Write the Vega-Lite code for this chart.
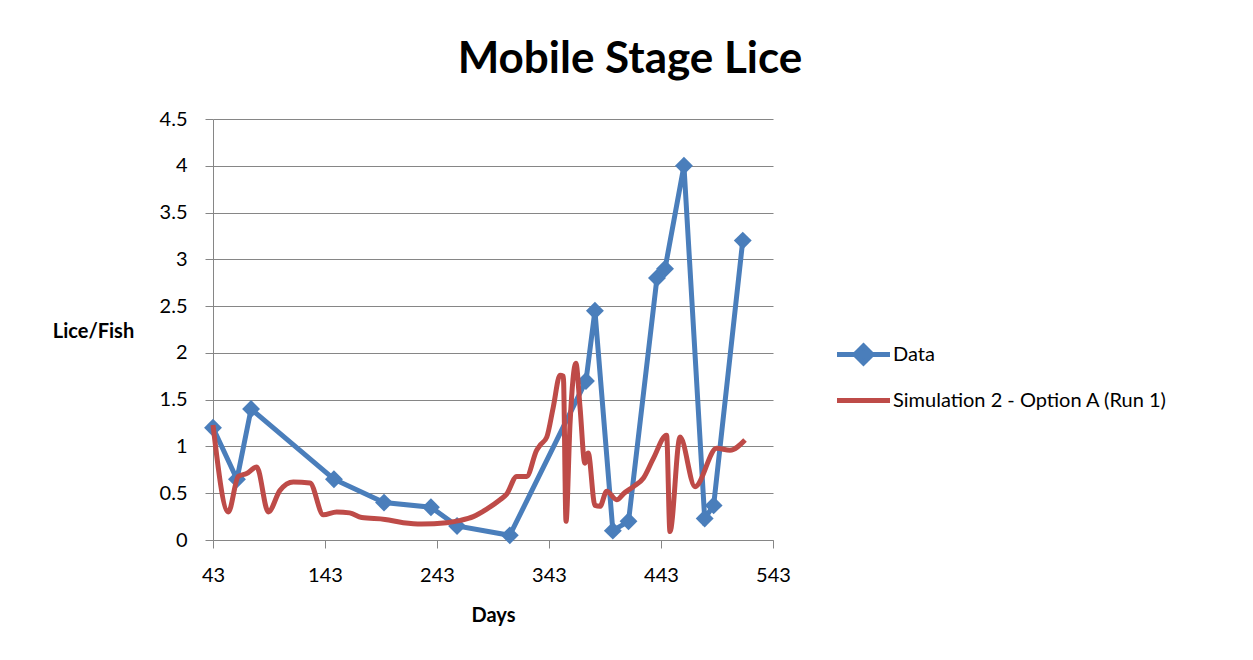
{
  "$schema": "https://vega.github.io/schema/vega-lite/v6.json",
  "width": 560,
  "height": 421,
  "autosize": "none",
  "padding": {"left": 213, "top": 119, "right": 480, "bottom": 120},
  "background": "white",
  "config": {"font": "Lato", "view": {"stroke": null}},
  "title": {"text": "Mobile Stage Lice", "fontSize": 44, "font": "Lato", "fontWeight": "bold", "color": "black", "anchor": "middle", "dx": 137, "offset": 27},
  "datasets": {
    "obs": [
      {"series": "Data", "day": 43, "value": 1.2},
      {"series": "Data", "day": 64.4, "value": 0.65},
      {"series": "Data", "day": 77, "value": 1.4},
      {"series": "Data", "day": 151, "value": 0.65},
      {"series": "Data", "day": 195.7, "value": 0.4},
      {"series": "Data", "day": 237.6, "value": 0.35},
      {"series": "Data", "day": 260.9, "value": 0.15},
      {"series": "Data", "day": 308, "value": 0.05},
      {"series": "Data", "day": 376, "value": 1.7},
      {"series": "Data", "day": 384, "value": 2.45},
      {"series": "Data", "day": 400, "value": 0.1},
      {"series": "Data", "day": 414, "value": 0.2},
      {"series": "Data", "day": 439.4, "value": 2.8},
      {"series": "Data", "day": 446.6, "value": 2.9},
      {"series": "Data", "day": 463.5, "value": 4.0},
      {"series": "Data", "day": 482, "value": 0.23},
      {"series": "Data", "day": 490, "value": 0.37},
      {"series": "Data", "day": 516, "value": 3.2}
    ],
    "sim": [
      {"series": "Simulation 2 - Option A (Run 1)", "day": 43, "value": 1.23},
      {"series": "Simulation 2 - Option A (Run 1)", "day": 56.7, "value": 0.3},
      {"series": "Simulation 2 - Option A (Run 1)", "day": 65.6, "value": 0.68},
      {"series": "Simulation 2 - Option A (Run 1)", "day": 73, "value": 0.71},
      {"series": "Simulation 2 - Option A (Run 1)", "day": 82, "value": 0.78},
      {"series": "Simulation 2 - Option A (Run 1)", "day": 92.4, "value": 0.3},
      {"series": "Simulation 2 - Option A (Run 1)", "day": 102.8, "value": 0.53},
      {"series": "Simulation 2 - Option A (Run 1)", "day": 114.7, "value": 0.62},
      {"series": "Simulation 2 - Option A (Run 1)", "day": 129.6, "value": 0.61},
      {"series": "Simulation 2 - Option A (Run 1)", "day": 141.5, "value": 0.27},
      {"series": "Simulation 2 - Option A (Run 1)", "day": 153.4, "value": 0.3},
      {"series": "Simulation 2 - Option A (Run 1)", "day": 165, "value": 0.29},
      {"series": "Simulation 2 - Option A (Run 1)", "day": 175.8, "value": 0.24},
      {"series": "Simulation 2 - Option A (Run 1)", "day": 196.6, "value": 0.22},
      {"series": "Simulation 2 - Option A (Run 1)", "day": 212.9, "value": 0.185},
      {"series": "Simulation 2 - Option A (Run 1)", "day": 229.3, "value": 0.17},
      {"series": "Simulation 2 - Option A (Run 1)", "day": 251.6, "value": 0.185},
      {"series": "Simulation 2 - Option A (Run 1)", "day": 264, "value": 0.21},
      {"series": "Simulation 2 - Option A (Run 1)", "day": 275.4, "value": 0.25},
      {"series": "Simulation 2 - Option A (Run 1)", "day": 287.4, "value": 0.33},
      {"series": "Simulation 2 - Option A (Run 1)", "day": 299.3, "value": 0.43},
      {"series": "Simulation 2 - Option A (Run 1)", "day": 305.2, "value": 0.49},
      {"series": "Simulation 2 - Option A (Run 1)", "day": 314.2, "value": 0.68},
      {"series": "Simulation 2 - Option A (Run 1)", "day": 323, "value": 0.68},
      {"series": "Simulation 2 - Option A (Run 1)", "day": 332, "value": 0.96},
      {"series": "Simulation 2 - Option A (Run 1)", "day": 335.5, "value": 1.02},
      {"series": "Simulation 2 - Option A (Run 1)", "day": 341, "value": 1.1},
      {"series": "Simulation 2 - Option A (Run 1)", "day": 346.8, "value": 1.42},
      {"series": "Simulation 2 - Option A (Run 1)", "day": 352.8, "value": 1.76},
      {"series": "Simulation 2 - Option A (Run 1)", "day": 355.8, "value": 1.75},
      {"series": "Simulation 2 - Option A (Run 1)", "day": 358.2, "value": 0.2},
      {"series": "Simulation 2 - Option A (Run 1)", "day": 361.8, "value": 1.25},
      {"series": "Simulation 2 - Option A (Run 1)", "day": 367, "value": 1.89},
      {"series": "Simulation 2 - Option A (Run 1)", "day": 370.7, "value": 1.42},
      {"series": "Simulation 2 - Option A (Run 1)", "day": 375, "value": 0.82},
      {"series": "Simulation 2 - Option A (Run 1)", "day": 378, "value": 0.93},
      {"series": "Simulation 2 - Option A (Run 1)", "day": 384, "value": 0.37},
      {"series": "Simulation 2 - Option A (Run 1)", "day": 388.5, "value": 0.36},
      {"series": "Simulation 2 - Option A (Run 1)", "day": 394.5, "value": 0.52},
      {"series": "Simulation 2 - Option A (Run 1)", "day": 403.4, "value": 0.43},
      {"series": "Simulation 2 - Option A (Run 1)", "day": 410, "value": 0.5},
      {"series": "Simulation 2 - Option A (Run 1)", "day": 418.3, "value": 0.57},
      {"series": "Simulation 2 - Option A (Run 1)", "day": 427.2, "value": 0.66},
      {"series": "Simulation 2 - Option A (Run 1)", "day": 436.1, "value": 0.87},
      {"series": "Simulation 2 - Option A (Run 1)", "day": 448, "value": 1.12},
      {"series": "Simulation 2 - Option A (Run 1)", "day": 451, "value": 0.09},
      {"series": "Simulation 2 - Option A (Run 1)", "day": 460, "value": 1.1},
      {"series": "Simulation 2 - Option A (Run 1)", "day": 473.4, "value": 0.57},
      {"series": "Simulation 2 - Option A (Run 1)", "day": 492.7, "value": 0.98},
      {"series": "Simulation 2 - Option A (Run 1)", "day": 504.6, "value": 0.96},
      {"series": "Simulation 2 - Option A (Run 1)", "day": 518, "value": 1.07}
    ]
  },
  "encoding": {
    "x": {
      "field": "day", "type": "quantitative",
      "scale": {"domain": [43, 543], "nice": false, "zero": false},
      "axis": {
        "title": "Days", "values": [43, 143, 243, 343, 443, 543], "grid": false,
        "domainColor": "#868686", "tickColor": "#868686", "tickSize": 8,
        "labelFontSize": 20, "labelColor": "black", "labelPadding": 17, "labelFlush": false,
        "titleFontSize": 20, "titleFontWeight": "bold", "titleColor": "black", "titlePadding": 20
      }
    },
    "y": {
      "field": "value", "type": "quantitative",
      "scale": {"domain": [0, 4.5], "nice": false},
      "axis": {
        "title": "Lice/Fish", "values": [0, 0.5, 1, 1.5, 2, 2.5, 3, 3.5, 4, 4.5], "format": "~g",
        "grid": true, "gridColor": "#868686", "gridWidth": 1.2,
        "domainColor": "#868686", "tickColor": "#868686", "tickSize": 8,
        "labelFontSize": 20, "labelColor": "black", "labelPadding": 18,
        "titleFontSize": 20, "titleFontWeight": "bold", "titleColor": "black",
        "titleAngle": 0, "titleAlign": "center", "titleBaseline": "middle",
        "titleX": -120, "titleY": 212
      }
    },
    "color": {
      "field": "series", "type": "nominal",
      "scale": {"domain": ["Data", "Simulation 2 - Option A (Run 1)"], "range": ["#4A7EBB", "#BE4B48"]},
      "legend": {
        "title": null, "orient": "none", "legendX": 638, "legendY": 223,
        "labelFontSize": 20, "labelColor": "black", "labelOffset": 17, "labelLimit": 0, "rowPadding": 15,
        "symbolSize": 400, "symbolStrokeWidth": 5, "padding": 0,
        "encode": {
          "symbols": {
            "update": {
              "shape": {"signal": "datum.value === 'Data' ? 'M-2.65,0L2.65,0M0,-0.85L0.85,0L0,0.85L-0.85,0Z' : 'M-2.65,0L2.65,0'"},
              "fill": {"signal": "datum.value === 'Data' ? '#4A7EBB' : 'transparent'"},
              "stroke": {"signal": "datum.value === 'Data' ? '#4A7EBB' : '#BE4B48'"},
              "strokeWidth": {"value": 5},
              "opacity": {"value": 1}
            }
          }
        }
      }
    }
  },
  "layer": [
    {
      "data": {"name": "obs"},
      "mark": {"type": "line", "strokeWidth": 5}
    },
    {
      "data": {"name": "obs"},
      "mark": {"type": "point", "shape": "diamond", "filled": true, "size": 320, "opacity": 1}
    },
    {
      "data": {"name": "sim"},
      "mark": {"type": "line", "strokeWidth": 5, "interpolate": "monotone"}
    }
  ]
}
